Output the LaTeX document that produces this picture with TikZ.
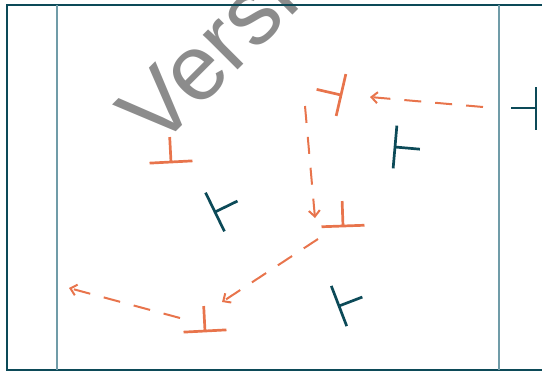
\documentclass[tikz,border=0pt]{standalone}
\usepackage{fontspec}
\setmainfont{Liberation Sans}
\usetikzlibrary{arrows.meta}
\definecolor{edgeorange}{RGB}{232,116,76}
\definecolor{frameteal}{RGB}{12,74,88}
\definecolor{wallteal}{RGB}{112,156,168}
\definecolor{markgray}{RGB}{140,140,140}

\begin{document}
\begin{tikzpicture}[
    x=1pt, y=-1pt,
    disl/.pic={\draw[pic actions] (-21.5,0) -- (21.5,0) (0,0) -- (0,-25);},
    hot/.style={draw=edgeorange, line width=2.7pt},
    cold/.style={draw=frameteal, line width=2.7pt},
    frame/.style={draw=frameteal, line width=2.4pt},
    wall/.style={draw=wallteal, line width=1.6pt},
    glide/.style={-{Straight Barb[length=6pt,width=11pt]}, dash pattern=on 17pt off 14pt,
                  line width=2pt, color=edgeorange},
    watermark/.style={font=\fontsize{93}{93}\selectfont, text=markgray, inner sep=0pt}
]
\useasboundingbox (0,0) rectangle (542,373);
\clip (0,0) rectangle (542,373);
\node[watermark, anchor=base west, rotate=45] (mark) at (157,151) {Version};

% cell walls
\draw[frame] (7,5) rectangle (560,370);
\draw[wall] (57,5) -- (57,370);
\draw[wall] (499,5) -- (499,370);

% dislocations
\pic[hot, rotate=3] (o1) at (171,162) {disl};
\pic[hot, rotate=77] (o2) at (341,95) {disl};
\pic[hot, rotate=2] (o3) at (343,226) {disl};
\pic[hot, rotate=3] (o4) at (205,331) {disl};
\pic[cold, rotate=-95] (t1) at (395,147) {disl};
\pic[cold, rotate=90] (t2) at (536,108) {disl};
\pic[cold, rotate=-64] (t3) at (215,212) {disl};
\pic[cold, rotate=-69] (t4) at (339,306) {disl};

% glide paths
\coordinate (a0) at (483,107);
\coordinate (a1) at (370,97);
\coordinate (b0) at (305,106);
\coordinate (b1) at (315,218);
\coordinate (c0) at (318,239);
\coordinate (c1) at (222,302);
\coordinate (d0) at (180,318);
\coordinate (d1) at (69,288);
\draw[glide] (a0) -- (a1);
\draw[glide] (b0) -- (b1);
\draw[glide] (c0) -- (c1);
\draw[glide] (d0) -- (d1);
\end{tikzpicture}
\end{document}
